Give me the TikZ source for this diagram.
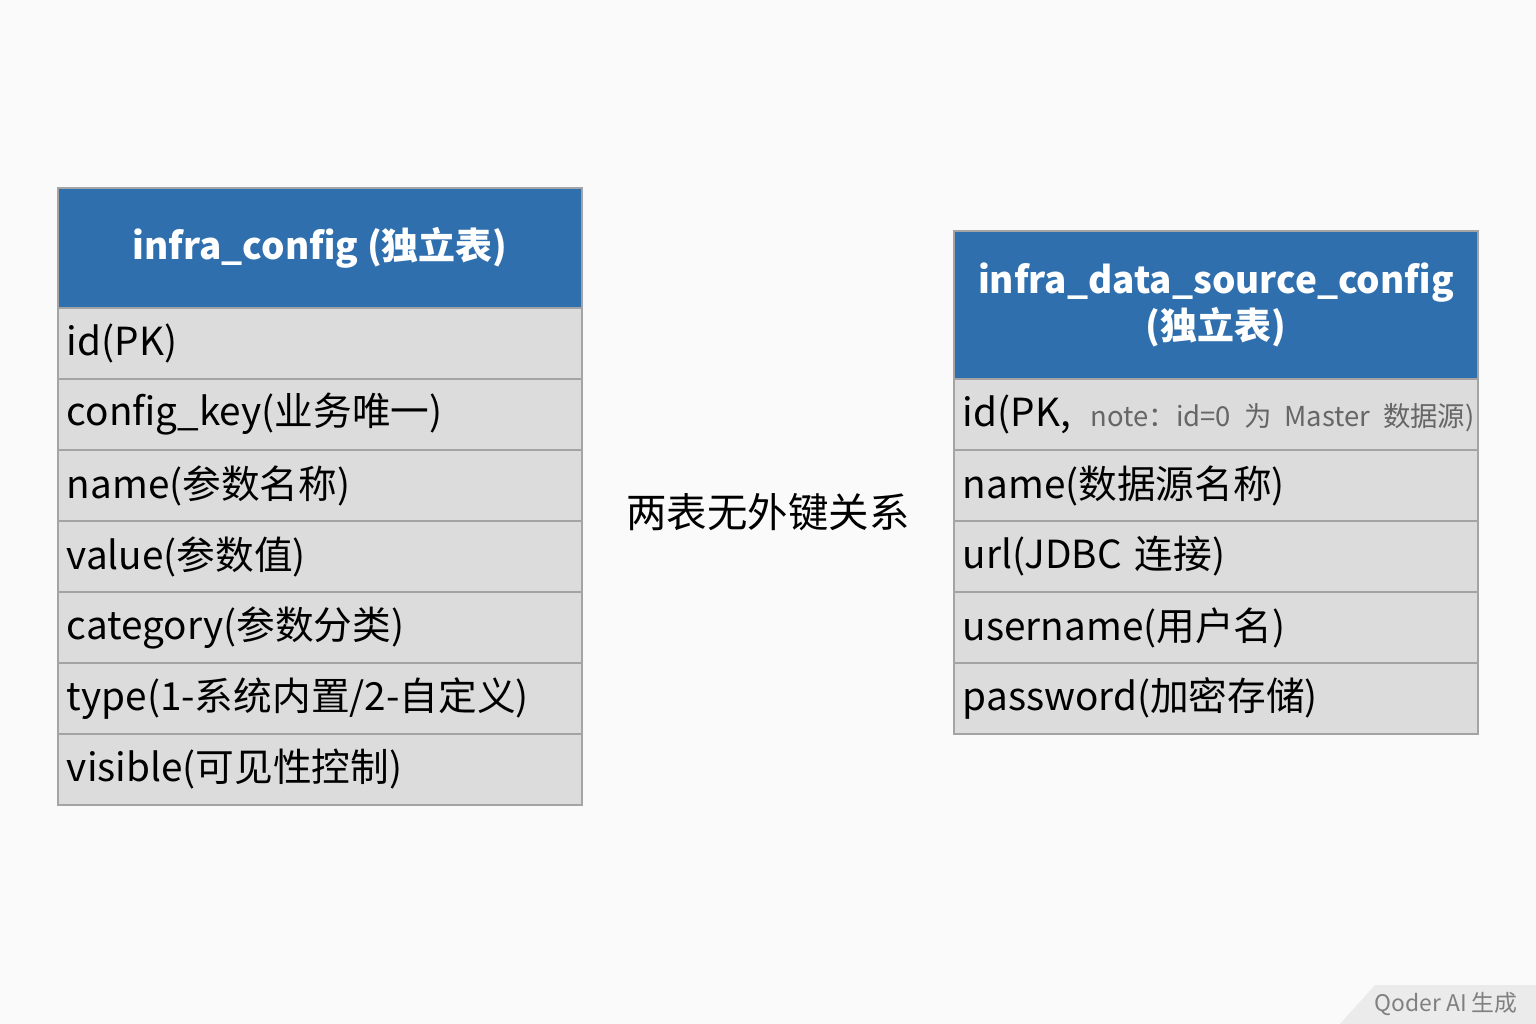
\documentclass[tikz,border=0pt]{standalone}
\usepackage{fontspec}
\setmainfont{Noto Sans CJK SC}
\usepackage{tikz}
\definecolor{hdrblue}{HTML}{2F6FAE}
\definecolor{rowgray}{HTML}{DCDCDC}
\definecolor{linegray}{HTML}{A4A4A4}
\definecolor{bggray}{HTML}{FAFAFA}
\tikzset{
  hdr/.style={draw=linegray, fill=hdrblue, text=white, font=\fontsize{10.5}{13}\selectfont\bfseries,
    minimum width=5.24cm, align=center, inner sep=0pt},
  row/.style={draw=linegray, fill=rowgray, minimum width=5.24cm, minimum height=0.71cm,
    text width=5.06cm, inner xsep=0.09cm, inner ysep=0pt, align=left, font=\fontsize{11}{12}\selectfont}
}
\begin{document}
\begin{tikzpicture}[x=0.01cm, y=-0.01cm]

% background
\fill[bggray] (0,0) rectangle (1536,1024);
\useasboundingbox (0,0) rectangle (1536,1024);

% left table
\node[hdr, minimum height=1.2cm] (cfghead) at (320,248) {infra\_config (独立表)};
\foreach \txt [count=\i] in {id(PK), config\_key(业务唯一), name(参数名称), value(参数值),
    category(参数分类), type(1-系统内置/2-自定义), visible(可见性控制)}
  \node[row] (cfg\i) at (320,{272.5+71*\i}) {\txt};

% right table
\node[hdr, minimum height=1.48cm] (dsrchead) at (1216,305) {infra\_data\_source\_config\\(独立表)};
\node[row] (dsrc1) at (1216,414.5) {\mbox{id(PK,\hspace{0.2cm}{\fontsize{7.8}{9}\selectfont\color{black!60}note：id=0 为 Master 数据源)}}};
\foreach \txt [count=\i from 2] in {name(数据源名称), url(JDBC 连接), username(用户名), password(加密存储)}
  \node[row] (dsrc\i) at (1216,{343.5+71*\i}) {\txt};

% relation note
\node[font=\fontsize{11.5}{12.5}\selectfont] (rel) at (768,512) {两表无外键关系};

% watermark
\fill[black!8] (1340,1024) -- (1375,985) -- (1536,985) -- (1536,1024) -- cycle;
\node[font=\fontsize{6.5}{7}\selectfont, text=black!50, anchor=east] (mark) at (1530,1004) {Qoder AI 生成};

\end{tikzpicture}
\end{document}
